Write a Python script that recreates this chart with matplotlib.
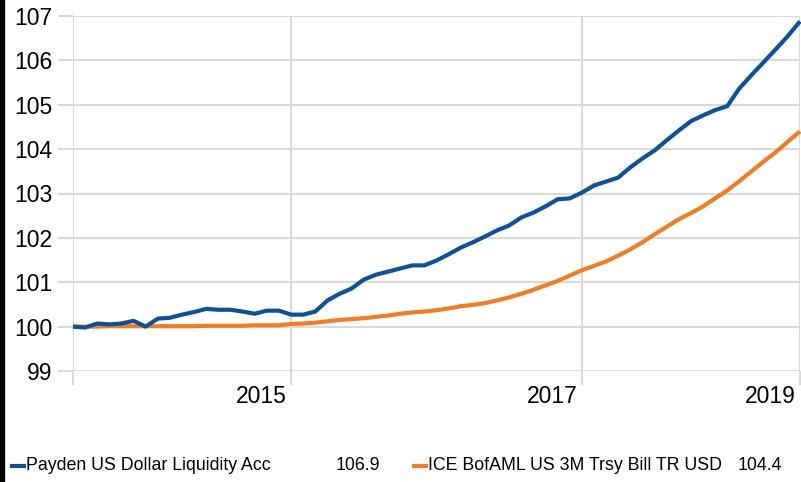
import matplotlib
matplotlib.use("Agg")
import matplotlib.pyplot as plt
import matplotlib.transforms as mtransforms
from matplotlib.lines import Line2D
from matplotlib.patches import Rectangle

plt.rcParams['font.family'] = ['Liberation Sans', 'DejaVu Sans']

# Monthly index values, mid-2013 .. mid-2018 (61 points)
payden = [100.00, 99.98, 100.07, 100.05, 100.07, 100.13, 100.00, 100.18, 100.20, 100.27,
          100.33, 100.40, 100.38, 100.38, 100.34, 100.29, 100.36, 100.36, 100.27, 100.27,
          100.34, 100.59, 100.74, 100.86, 101.06, 101.17, 101.24, 101.31, 101.38, 101.38,
          101.49, 101.63, 101.78, 101.90, 102.03, 102.17, 102.28, 102.46, 102.57, 102.71,
          102.87, 102.89, 103.02, 103.18, 103.27, 103.36, 103.59, 103.79, 103.97, 104.20,
          104.42, 104.63, 104.76, 104.88, 104.97, 105.37, 105.67, 105.96, 106.25, 106.55,
          106.88]
tbill = [100.00, 100.00, 100.00, 100.01, 100.01, 100.01, 100.01, 100.01, 100.01, 100.01,
         100.01, 100.02, 100.02, 100.02, 100.02, 100.03, 100.03, 100.03, 100.06, 100.07,
         100.09, 100.12, 100.15, 100.17, 100.19, 100.22, 100.25, 100.29, 100.32, 100.34,
         100.37, 100.41, 100.46, 100.49, 100.53, 100.59, 100.66, 100.74, 100.83, 100.93,
         101.03, 101.15, 101.27, 101.37, 101.47, 101.60, 101.74, 101.90, 102.08, 102.25,
         102.42, 102.56, 102.71, 102.89, 103.07, 103.28, 103.50, 103.72, 103.93, 104.17,
         104.40]
x_ticks = [0, 18, 42, 60]
x_labels = ["", "2015", "2017", "2019"]
y_ticks = [99, 100, 101, 102, 103, 104, 105, 106, 107]
names = ["Payden US Dollar Liquidity Acc", "ICE BofAML US 3M Trsy Bill TR USD"]

blue = "#0a539c"
orange = "#f47b20"
grid = "#d9d9d9"

fig = plt.figure(figsize=(8.01, 4.82), dpi=100)
fig.patches.append(Rectangle((0, 0), 4 / 801, 1, transform=fig.transFigure,
                             color="black", zorder=0))
ax = fig.add_axes([73 / 801, 111 / 482, 727 / 801, 355 / 482])

x = list(range(len(payden)))
ax.plot(x, tbill, color=orange, lw=3, solid_capstyle="butt", clip_on=False, zorder=3)
ax.plot(x, payden, color=blue, lw=3, solid_capstyle="butt", clip_on=False, zorder=4)

ax.set_xlim(0, 60)
ax.set_ylim(99, 107)
ax.set_xticks(x_ticks)
ax.set_xticklabels(x_labels, ha="right")
ax.set_yticks(y_ticks)
ax.grid(True, color=grid, lw=1.5)
ax.set_axisbelow(True)
for s in ax.spines.values():
    s.set_visible(False)
ax.tick_params(axis="y", length=10.8, width=1.5, color=grid, pad=4, labelsize=16.5)
ax.tick_params(axis="x", length=10, width=1.5, color=grid, pad=0, labelsize=16.5)
offset = mtransforms.ScaledTranslation(-3 / 72, 0, fig.dpi_scale_trans)
for lab in ax.get_xticklabels():
    lab.set_transform(lab.get_transform() + offset)

# legend row
ly = 1 - 466 / 482
for lx, col, name, vx, val in [(12, blue, names[0], 380, payden[-1]),
                               (414, orange, names[1], 782, tbill[-1])]:
    fig.lines.append(Line2D([lx / 801, (lx + 12) / 801], [ly, ly], color=col, lw=3,
                            transform=fig.transFigure))
    fig.text((lx + 14) / 801, ly, name, fontsize=12.8, va="center", ha="left")
    fig.text(vx / 801, ly, f"{val:.1f}", fontsize=12.8, va="center", ha="right")

fig.savefig("out.png", dpi=100)
